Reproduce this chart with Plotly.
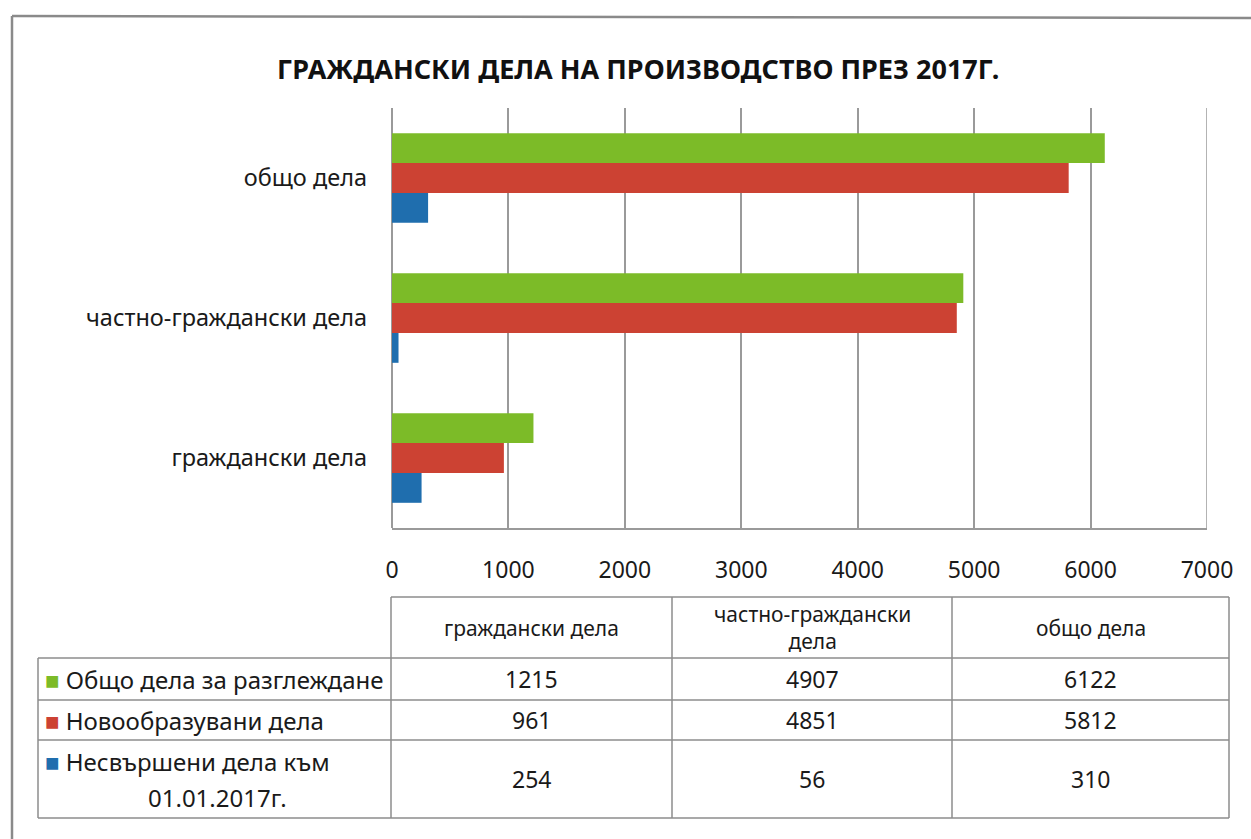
import plotly.graph_objects as go

# ---- data ----
categories = ["граждански дела", "частно-граждански дела", "общо дела"]
table_headers = ["граждански дела", "частно-граждански<br>дела", "общо дела"]
series_names = ["Общо дела за разглеждане", "Новообразувани дела", "Несвършени дела към<br>01.01.2017г."]
total_cases = [1215, 4907, 6122]
new_cases = [961, 4851, 5812]
pending_cases = [254, 56, 310]
x_ticks = [0, 1000, 2000, 3000, 4000, 5000, 6000, 7000]
title_text = "ГРАЖДАНСКИ ДЕЛА НА ПРОИЗВОДСТВО ПРЕЗ 2017Г."

# ---- style ----
W, H = 1251, 839
GREEN, RED, BLUE = "#7cbb28", "#cc4233", "#1f6eae"
GRID = "#9a9a9a"
FONT = "Noto Sans"


def px(x):
    return min(1.0, x / W)


def py(y):
    return 1 - y / H


fig = go.Figure()
series_values = [total_cases, new_cases, pending_cases]
series_colors = [GREEN, RED, BLUE]
# plotly draws the first trace at the bottom of each group -> reverse order
for name, vals, col in reversed(list(zip(series_names, series_values, series_colors))):
    fig.add_trace(go.Bar(y=categories, x=vals, orientation="h", name=name.replace("<br>", " "),
                         marker=dict(color=col, line=dict(width=0)), showlegend=False))

fig.update_layout(
    width=W, height=H, autosize=False,
    margin=dict(l=0, r=0, t=0, b=0, pad=0, autoexpand=False),
    paper_bgcolor="white", plot_bgcolor="white",
    barmode="group", bargap=0.36, bargroupgap=0,
    font=dict(family=FONT, color="#1a1a1a"),
    xaxis=dict(domain=[px(392), px(1207)], range=[0, 7000], tickvals=x_ticks, automargin=False,
               showgrid=True, gridcolor=GRID, gridwidth=1.5,
               zeroline=True, zerolinecolor=GRID, zerolinewidth=1.5,
               showline=True, linecolor=GRID, linewidth=1.5,
               tickfont=dict(size=23, family=FONT), ticks="", ticklabelstandoff=21),
    yaxis=dict(domain=[py(528), py(108)], showgrid=False, zeroline=False, showline=False, automargin=False,
               tickfont=dict(size=23.5, family=FONT), ticks="", ticklabelstandoff=24),
)

shapes = []
# outer frame (only left and top edges are visible in the picture)
shapes.append(dict(type="line", xref="paper", yref="paper", x0=px(12), x1=px(12), y0=0, y1=py(16),
                   line=dict(color="#8a8a8a", width=2.5)))
shapes.append(dict(type="line", xref="paper", yref="paper", x0=px(12), x1=1, y0=py(16), y1=py(18),
                   line=dict(color="#8a8a8a", width=2.5)))
# right gridline at 7000
shapes.append(dict(type="line", xref="x", yref="paper", x0=7000, x1=7000, y0=py(528), y1=py(108),
                   line=dict(color=GRID, width=1.5)))

# ---- data table below the chart ----
col_edges = [38, 391, 672, 952, 1229]
row_edges = [597, 658, 700, 740, 818]
LC = "#8c8c8c"
shapes.append(dict(type="line", xref="paper", yref="paper", x0=px(col_edges[1]), x1=px(col_edges[-1]),
                   y0=py(row_edges[0]), y1=py(row_edges[0]), line=dict(color=LC, width=1.5)))
for r in row_edges[1:]:
    shapes.append(dict(type="line", xref="paper", yref="paper", x0=px(col_edges[0]), x1=px(col_edges[-1]),
                       y0=py(r), y1=py(r), line=dict(color=LC, width=1.5)))
shapes.append(dict(type="line", xref="paper", yref="paper", x0=px(col_edges[0]), x1=px(col_edges[0]),
                   y0=py(row_edges[1]), y1=py(row_edges[-1]), line=dict(color=LC, width=1.5)))
for c in col_edges[1:]:
    shapes.append(dict(type="line", xref="paper", yref="paper", x0=px(c), x1=px(c),
                       y0=py(row_edges[0]), y1=py(row_edges[-1]), line=dict(color=LC, width=1.5)))

annotations = [dict(text=f"<b>{title_text}</b>", xref="paper", yref="paper", x=px(638), y=py(68),
                    xanchor="center", yanchor="middle", showarrow=False,
                    font=dict(size=27, family=FONT, color="#111111"))]

for j, head in enumerate(table_headers):
    cx = (col_edges[j + 1] + col_edges[j + 2]) / 2
    cy = (row_edges[0] + row_edges[1]) / 2
    annotations.append(dict(text=head, xref="paper", yref="paper", x=px(cx), y=py(cy),
                            xanchor="center", yanchor="middle", showarrow=False,
                            font=dict(size=21, family=FONT)))

LINE_STEP = 36
for i, (name, vals, col) in enumerate(zip(series_names, series_values, series_colors)):
    cy = (row_edges[i + 1] + row_edges[i + 2]) / 2
    lines = name.split("<br>")
    y_first = cy - (len(lines) - 1) * LINE_STEP / 2
    annotations.append(dict(text=f"<span style='color:{col}'>■</span> {lines[0]}", xref="paper", yref="paper",
                            x=px(43), y=py(y_first), xanchor="left", yanchor="middle",
                            showarrow=False, font=dict(size=24, family=FONT)))
    for k, extra in enumerate(lines[1:], start=1):
        annotations.append(dict(text=extra, xref="paper", yref="paper",
                                x=px(217), y=py(y_first + k * LINE_STEP), xanchor="center", yanchor="middle",
                                showarrow=False, font=dict(size=24, family=FONT)))
    for j, v in enumerate(vals):
        cx = (col_edges[j + 1] + col_edges[j + 2]) / 2
        annotations.append(dict(text=str(v), xref="paper", yref="paper", x=px(cx), y=py(cy),
                                xanchor="center", yanchor="middle", showarrow=False,
                                font=dict(size=23, family=FONT)))

fig.update_layout(shapes=shapes, annotations=annotations)
post = (
    "document.documentElement.style.margin='0';"
    "document.body.style.margin='0';"
    "document.documentElement.style.overflow='hidden';"
    "document.body.style.overflow='hidden';"
)
fig.write_html("out.html", config={"displayModeBar": False}, post_script=post)
